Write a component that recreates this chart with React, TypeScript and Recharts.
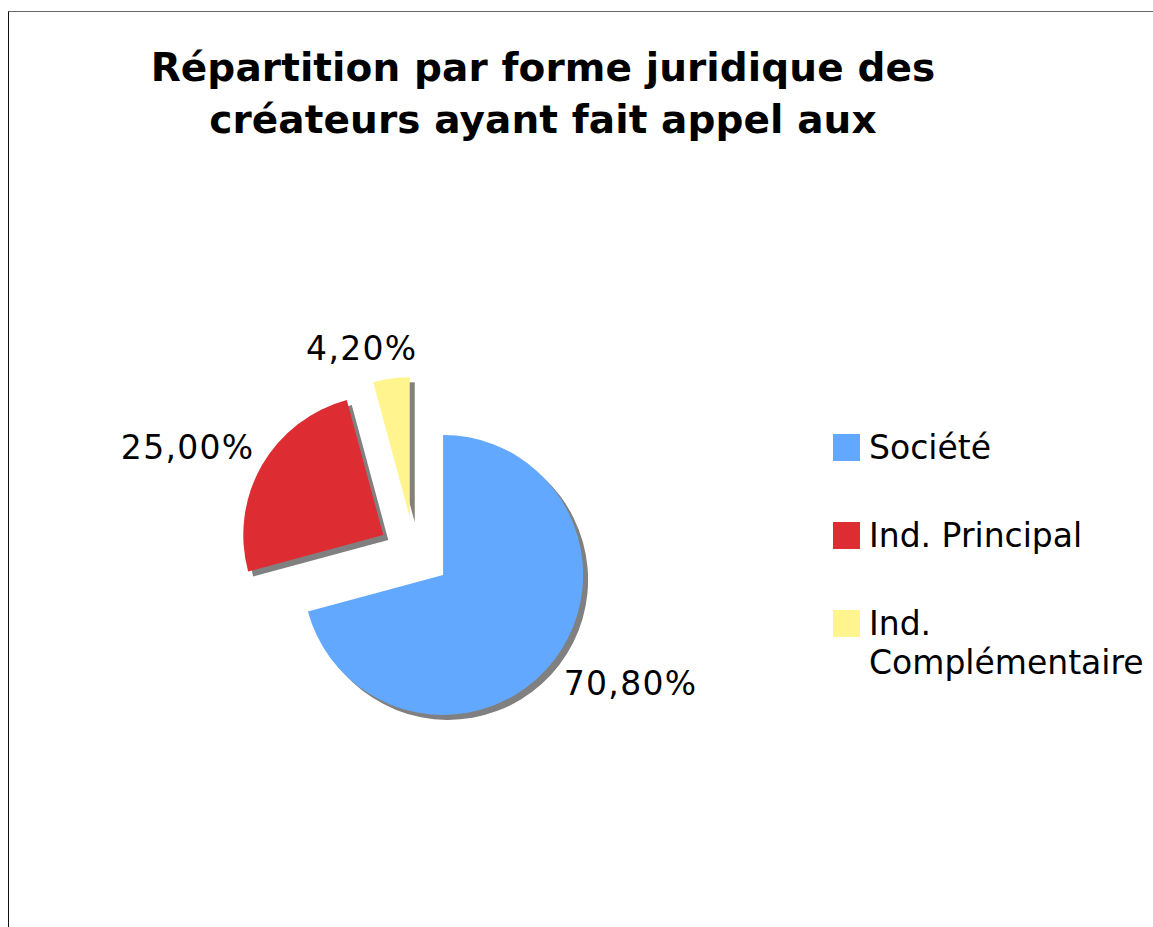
import { PieChart, Pie, Cell, Sector, Legend } from 'recharts'

const names = ['Société', 'Ind. Principal', 'Ind. Complémentaire']
const shares = [70.8, 25.0, 4.2]
const colors = ['#63a8ff', '#dd2d33', '#fff48d']
const titleLines = ['Répartition par forme juridique des', 'créateurs ayant fait appel aux']

const data = names.map((name, i) => ({ name, value: shares[i] }))

const FONT = '"DejaVu Sans", Verdana, sans-serif'
const RAD = Math.PI / 180
const EXPLODE = 36 // every slice is pulled out of the centre
const SHADOW = 5

function ExplodedSector(props: any) {
  const { cx, cy, midAngle, innerRadius, outerRadius, startAngle, endAngle, fill } = props
  const dx = EXPLODE * Math.cos(-midAngle * RAD)
  const dy = EXPLODE * Math.sin(-midAngle * RAD)
  return (
    <g>
      <Sector
        cx={cx + dx + SHADOW}
        cy={cy + dy + SHADOW}
        innerRadius={innerRadius}
        outerRadius={outerRadius}
        startAngle={startAngle}
        endAngle={endAngle}
        fill="#808080"
        stroke="none"
      />
      <Sector
        cx={cx + dx}
        cy={cy + dy}
        innerRadius={innerRadius}
        outerRadius={outerRadius}
        startAngle={startAngle}
        endAngle={endAngle}
        fill={fill}
        stroke="none"
      />
    </g>
  )
}

function renderLabel(props: any) {
  const { cx, cy, midAngle, outerRadius, value } = props
  const cos = Math.cos(-midAngle * RAD)
  const sin = Math.sin(-midAngle * RAD)
  const r = outerRadius + EXPLODE + 12
  let x = cx + r * cos + (cos < 0 ? 3 : 0)
  let y = cy + r * sin + (sin > 0 ? 3 : 0)
  const anchor = cos > 0.38 ? 'start' : cos < -0.38 ? 'end' : 'middle'
  // near-vertical labels sit a bit left of and above their slice
  if (anchor === 'middle') {
    x -= 31
    y -= 7
  }
  const baseline = sin > 0 ? 'hanging' : 'alphabetic'
  return (
    <text
      x={x}
      y={y}
      textAnchor={anchor}
      dominantBaseline={baseline}
      fontFamily={FONT}
      fontSize={33}
      letterSpacing={1.3}
      fill="#000"
    >
      {value.toFixed(2).replace('.', ',') + '%'}
    </text>
  )
}

const renderLegend = () => (
  <div style={{ fontFamily: FONT, fontSize: 33, lineHeight: '39px', color: '#000', width: 320 }}>
    {names.map((n, i) => (
      <div key={n} style={{ display: 'flex', alignItems: 'flex-start', marginBottom: i < names.length - 1 ? 49 : 0 }}>
        <span style={{ width: 27, height: 27, background: colors[i], marginTop: 6, marginRight: 9, flex: 'none' }} />
        <span>{n}</span>
      </div>
    ))}
  </div>
)

export default function App() {
  return (
    <div style={{ position: 'absolute', left: 0, top: 0, width: 1153, height: 927, overflow: 'hidden', background: '#fff' }}>
      <div
        style={{
          position: 'absolute',
          left: 8,
          top: 11,
          width: 1200,
          height: 1000,
          borderTop: '1px solid #666',
          borderLeft: '1px solid #111',
        }}
      />
      <div
        style={{
          position: 'absolute',
          left: 0,
          top: 42,
          width: 1086,
          textAlign: 'center',
          fontFamily: FONT,
          fontWeight: 'bold',
          fontSize: 39,
          lineHeight: '52px',
          letterSpacing: 0.1,
          color: '#000',
        }}
      >
        {titleLines.map((l) => (
          <div key={l}>{l}</div>
        ))}
      </div>
      <div style={{ position: 'absolute', left: 0, top: 0 }}>
        <PieChart width={1153} height={927} margin={{ top: 0, right: 0, bottom: 0, left: 0 }}>
          <Pie
            data={data}
            dataKey="value"
            nameKey="name"
            cx={414.5}
            cy={553}
            outerRadius={140}
            startAngle={90}
            endAngle={-270}
            shape={ExplodedSector}
            label={renderLabel}
            labelLine={false}
            isAnimationActive={false}
          >
            {data.map((d, i) => (
              <Cell key={d.name} fill={colors[i]} />
            ))}
          </Pie>
          <Legend
            layout="vertical"
            align="right"
            verticalAlign="top"
            content={renderLegend}
            wrapperStyle={{ left: 833, top: 428, right: 'auto', bottom: 'auto', width: 320 }}
          />
        </PieChart>
      </div>
    </div>
  )
}
